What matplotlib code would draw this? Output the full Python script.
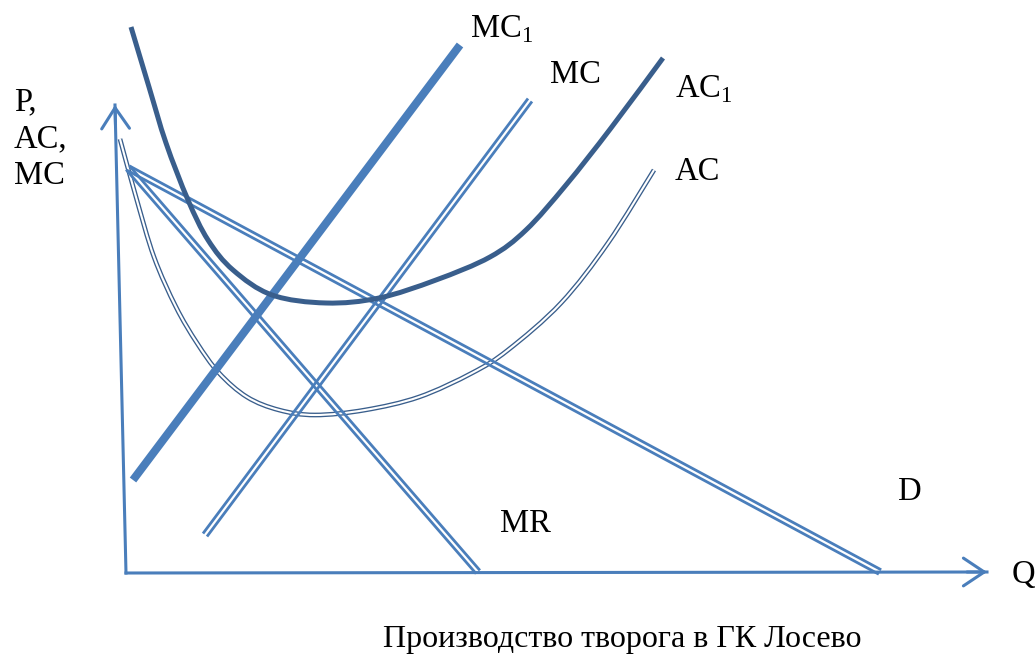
import numpy as np
import matplotlib
matplotlib.use("Agg")
import matplotlib.pyplot as plt
from matplotlib.path import Path
from matplotlib.patches import PathPatch

plt.rcParams['font.family'] = ['Liberation Serif', 'DejaVu Serif']
plt.rcParams['mathtext.fontset'] = 'custom'
plt.rcParams['mathtext.rm'] = 'Liberation Serif'

# ---- data (Q, P coordinates, origin at axes corner) ----
d_q = [2, 754]
d_p = [405, 1]

mr_q = [2, 352]
mr_p = [405, 1]

mc_q = [79, 404]
mc_p = [38, 473]

mc1_q = [7, 334]
mc1_p = [93, 528]

ac_q = [-6, 10, 28, 50, 71, 93, 121, 153, 189, 239, 293, 346, 382, 435, 482, 528]
ac_p = [434, 376, 316, 266, 230, 200, 176, 163, 158, 163, 176, 200, 223, 270, 330, 403]

ac1_q = [5, 23, 40, 62, 82, 107, 146, 200, 253, 310, 364, 400, 440, 485, 537]
ac1_p = [546, 486, 430, 373, 333, 303, 278, 270, 275, 293, 316, 343, 388, 445, 515]

yaxis_q = [0, -11]
yaxis_p = [0, 468]
xaxis_q = [0, 861]
xaxis_p = [0, 1]

labels = {
    "MC$_\\mathrm{1}$": (344, 536),
    "MC": (424, 490),
    "AC$_\\mathrm{1}$": (549, 476),
    "AC": (549, 393),
    "D": (772, 73),
    "MR": (374, 41),
    "Q": (886, -10),
}
ylabel_lines = ["P,", "AC,", "MC"]
title = "Производство творога в ГК Лосево"

LIGHT = "#4a7ebb"
DARK = "#395e8c"

fig = plt.figure(figsize=(10.35, 6.55), dpi=100)
ax = fig.add_axes([0, 0, 1, 1])
ax.set_xlim(-126, 909)
ax.set_ylim(-82, 573)
ax.axis("off")


def smooth_path(q, p):
    pts = np.column_stack([q, p]).astype(float)
    ext = np.vstack([pts[0], pts, pts[-1]])
    verts = [pts[0]]
    codes = [Path.MOVETO]
    for i in range(1, len(ext) - 2):
        p0, p1, p2, p3 = ext[i - 1], ext[i], ext[i + 1], ext[i + 2]
        c1 = p1 + (p2 - p0) / 6.0
        c2 = p2 - (p3 - p1) / 6.0
        verts += [c1, c2, p2]
        codes += [Path.CURVE4] * 3
    return Path(verts, codes)


def double_line(q, p, color, sep, lw, z=2):
    q = np.asarray(q, float)
    p = np.asarray(p, float)
    t = np.array([q[1] - q[0], p[1] - p[0]])
    t = t / np.hypot(*t)
    nq, np_ = -t[1], t[0]
    for s in (-0.5, 0.5):
        ax.plot(q + s * sep * nq, p + s * sep * np_, color=color, lw=lw,
                solid_capstyle="butt", zorder=z)


# axes with arrows
ax.plot(yaxis_q, yaxis_p, color=LIGHT, lw=2.2, zorder=1)
ax.plot(xaxis_q, xaxis_p, color=LIGHT, lw=2.2, zorder=1)
arrow_kw = dict(arrowstyle="->,head_length=0.75,head_width=0.5", color=LIGHT,
                lw=2.2, mutation_scale=20, shrinkA=0, shrinkB=0)
ax.annotate("", xy=(yaxis_q[1], yaxis_p[1]), xytext=(yaxis_q[1] + 0.5, yaxis_p[1] - 20),
            arrowprops=arrow_kw)
ax.annotate("", xy=(xaxis_q[1], xaxis_p[1]), xytext=(xaxis_q[1] - 20, xaxis_p[1]),
            arrowprops=arrow_kw)

# AC: thin double line (dark outline with white core)
ac_path = smooth_path(ac_q, ac_p)
ax.add_patch(PathPatch(ac_path, fill=False, edgecolor=DARK, lw=3.4,
                       capstyle="butt", zorder=1.5))
ax.add_patch(PathPatch(ac_path, fill=False, edgecolor="white", lw=1.5,
                       capstyle="butt", zorder=1.6))

double_line(d_q, d_p, LIGHT, 5.0, 2.0)
double_line(mr_q, mr_p, LIGHT, 5.0, 2.0)
double_line(mc_q, mc_p, LIGHT, 5.0, 2.0)
ax.plot(mc1_q, mc1_p, color=LIGHT, lw=5.8, solid_capstyle="butt", zorder=3)
ax.add_patch(PathPatch(smooth_path(ac1_q, ac1_p), fill=False, edgecolor=DARK,
                       lw=3.6, capstyle="butt", zorder=3))

# labels
for txt, (x, y) in labels.items():
    ax.text(x, y, txt, fontsize=23.5, ha="left", va="baseline", color="black")
for i, t in enumerate(ylabel_lines):
    ax.text(-112, 463 - 37 * i, t, fontsize=23.5, ha="left", va="baseline")
ax.text(496, -74, title, fontsize=23, ha="center", va="baseline")

fig.savefig("out.png", dpi=100)
